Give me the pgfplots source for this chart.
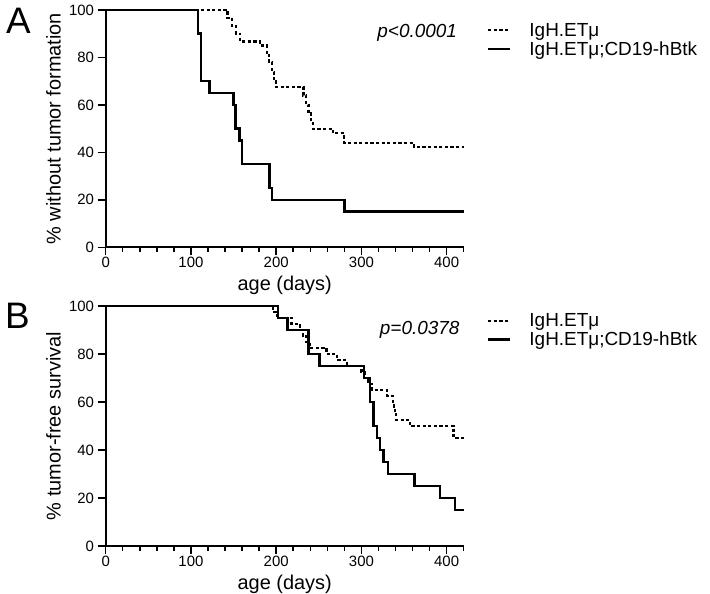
\documentclass[border=0pt]{standalone}
\usepackage{fontspec}
\setmainfont{Liberation Sans}
\usepackage{pgfplots}
\pgfplotsset{compat=1.18}
\begin{document}
\begin{tikzpicture}
\useasboundingbox (0bp,0bp) rectangle (710bp,-594bp);
\pgfplotsset{
  km/.style={
    scale only axis, width=358bp, xmin=0, xmax=420, ymin=0, ymax=100,
    axis lines=left, axis line style={line width=1.7bp, -},
    xtick={0,100,...,400}, minor xtick={20,40,...,420}, ytick={0,20,...,100},
    tick align=outside, tick style={line width=1.5bp, black},
    major tick length=8bp, minor tick length=5bp,
    /pgf/number format/assume math mode=true,
    tick label style={font=\fontsize{15}{17}\selectfont},
    yticklabel style={inner sep=3.5bp},
    xticklabel style={inner sep=1.5bp},
    label style={font=\fontsize{20}{23}\selectfont},
    xlabel={age (days)},
    xlabel style={at={(axis description cs:0.5,-0.1814)}, anchor=base},
    ylabel style={at={(axis description cs:-0.1256,0.5)}, anchor=base, rotate=0},
    clip=false,
    legend cell align=left,
    legend image code/.code={\path[draw=none,fill=none] (0bp,-7bp) rectangle (22bp,7bp); \draw[##1] (0bp,-1bp) -- (22bp,-1bp);},
    legend style={anchor=north west, draw=none, fill=none, inner sep=0pt, outer sep=0pt,
      font=\fontsize{19}{21}\selectfont,
      nodes={inner sep=0pt, text height=14bp, text depth=0bp},
      row sep=5bp, column sep=18bp},
  },
  dsh/.style={black, line width=2.2bp, dash pattern=on 3.2bp off 2.4bp, const plot},
  sld/.style={black, line width=2.5bp, const plot},
}
\node[anchor=base west, inner sep=0pt, font=\fontsize{37}{40}\selectfont] at (6bp,-33bp) {A};
\node[anchor=base west, inner sep=0pt, font=\fontsize{37}{40}\selectfont] at (5bp,-328bp) {B};

\begin{axis}[km, height=237.3bp, at={(105.7bp,-247.3bp)}, anchor=south west,
  ylabel={\% without tumor formation},
  legend style={at={(rel axis cs:1.065,0.9494)}}]
\addplot[dsh] coordinates {(0,100) (143,96.7) (148,93.3) (153,90) (158,86.7) (181,85)
  (189,82) (192,78) (195,74) (197,71) (200,67.5) (232,64) (235,60) (238,56.5) (241,53)
  (243,50) (267,48) (280,44) (362,42.3) (420,42.3)};
\addlegendentry{IgH.ETμ}
\addplot[sld] coordinates {(0,100) (108,90) (112,70) (122,65) (150,60) (152,50) (157,45)
  (160,35) (192,25) (195,20) (280,15) (420,15)};
\addlegendentry{IgH.ETμ;CD19-hBtk}
\node[anchor=base east, inner sep=0pt, font=\fontsize{19}{22}\selectfont\itshape] at (rel axis cs:0.9816,0.884) {p<0.0001};
\end{axis}

\begin{axis}[km, height=240bp, at={(105.7bp,-546bp)}, anchor=south west,
  ylabel={\% tumor-free survival},
  legend style={at={(rel axis cs:1.065,0.9725)}}]
\addplot[dsh] coordinates {(0,100) (196,97.5) (201,95) (218,92.5) (228,90) (231,87.5)
  (235,85) (239,82.5) (259,80) (271,77.5) (283,75) (300,72.5) (304,70) (308,67.5)
  (312,65) (330,62.5) (337,60) (338,57.5) (339,55) (341,52.5) (357,50) (408,45) (420,45)};
\addlegendentry{IgH.ETμ}
\addplot[sld] coordinates {(0,100) (202,95) (213,90) (238,80) (251,75) (303,70) (310,60)
  (314,50) (318,45) (322,40) (326,35) (331,30) (362,25) (392,20) (410,15) (420,15)};
\addlegendentry{IgH.ETμ;CD19-hBtk}
\node[anchor=base east, inner sep=0pt, font=\fontsize{19}{22}\selectfont\itshape] at (rel axis cs:0.9886,0.881) {p=0.0378};
\end{axis}
\end{tikzpicture}
\end{document}
